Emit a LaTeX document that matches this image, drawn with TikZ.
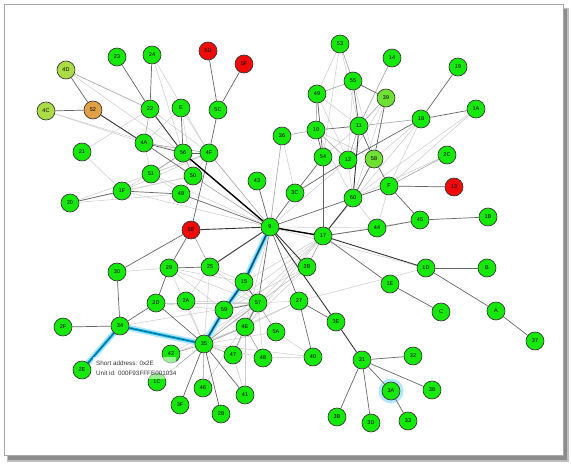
\documentclass[tikz,border=0pt]{standalone}
\usepackage{fontspec}
\setmainfont{Liberation Sans}
\pgfdeclarelayer{background}
\pgfdeclarelayer{edges}
\pgfsetlayers{background,edges,main}
\definecolor{ngreen}{RGB}{22,232,10}
\definecolor{nlime}{RGB}{110,225,50}
\definecolor{nyel}{RGB}{170,220,70}
\definecolor{norange}{RGB}{225,160,70}
\definecolor{nred}{RGB}{240,10,10}
\tikzset{
  nd/.style={circle,draw=black!80,line width=0.65pt,fill=ngreen,minimum size=18pt,inner sep=0pt,font=\fontsize{5.5}{6}\selectfont},
  rd/.style={nd,fill=nred},
  lm/.style={nd,fill=nlime},
  yl/.style={nd,fill=nyel},
  og/.style={nd,fill=norange},
  ea/.style={draw=black!20,line width=0.5pt},
  eb/.style={draw=black!38,line width=0.55pt},
  ec/.style={draw=black!60,line width=0.7pt},
  ed/.style={draw=black!80,line width=0.9pt},
  ee/.style={draw=black,line width=1.4pt},
  glow/.style={draw=cyan!30,line width=6pt,line cap=round},
  glowc/.style={draw=cyan,line width=2.6pt,line cap=round},
  tip/.style={font=\fontsize{6.3}{7}\selectfont,text=black!80,anchor=west,inner sep=0pt}
}
\begin{document}
\begin{tikzpicture}[x=1pt,y=-1pt]
\useasboundingbox (0,0) rectangle (571,468);
\begin{pgfonlayer}{background}
\fill[black!25] (7,8) rectangle (569,462);
\fill[black!45] (8,9) rectangle (567,460);
\filldraw[fill=white,draw=black!35,line width=0.5pt] (4,4) rectangle (563,455);
\end{pgfonlayer}
% nodes
\node[nd] (n23) at (117,57) {23};
\node[nd] (n24) at (152,55) {24};
\node[yl] (n4D) at (66,70) {4D};
\node[yl] (n4C) at (46,111) {4C};
\node[og] (n52) at (93,110) {52};
\node[nd] (n22) at (150,109) {22};
\node[nd] (nE) at (181,108) {E};
\node[rd] (n5D) at (208,51) {5D};
\node[rd] (n5F) at (244,64) {5F};
\node[nd] (n5C) at (218,110) {5C};
\node[nd] (n21) at (82,152) {21};
\node[nd] (n4A) at (144,143) {4A};
\node[nd] (n56) at (183,153) {56};
\node[nd] (n4F) at (209,153) {4F};
\node[nd] (n51) at (151,174) {51};
\node[nd] (n50) at (193,176) {50};
\node[nd] (n1F) at (122,191) {1F};
\node[nd] (n48a) at (181,194) {48};
\node[nd] (n20) at (70,203) {20};
\node[rd] (n5B) at (191,230) {5B};
\node[nd] (n43) at (257,181) {43};
\node[nd] (n9) at (270,227) {9};
\node[nd] (n36) at (282,136) {36};
\node[nd] (n3C) at (295,193) {3C};
\node[nd] (n53) at (340,44) {53};
\node[nd] (n55) at (353,81) {55};
\node[nd] (n49) at (317,94) {49};
\node[nd] (n10) at (316,130) {10};
\node[nd] (n11) at (359,126) {11};
\node[nd] (n14) at (392,58) {14};
\node[lm] (n39) at (386,98) {39};
\node[nd] (n18) at (421,119) {18};
\node[nd] (n19) at (458,67) {19};
\node[nd] (n1A) at (476,109) {1A};
\node[nd] (n54) at (323,157) {54};
\node[nd] (n12) at (348,160) {12};
\node[lm] (n58) at (374,159) {58};
\node[nd] (n2C) at (447,155) {2C};
\node[nd] (nF) at (389,186) {F};
\node[rd] (n13) at (454,187) {13};
\node[nd] (n60) at (353,198) {60};
\node[nd] (n17) at (323,236) {17};
\node[nd] (n44) at (377,228) {44};
\node[nd] (n45) at (420,220) {45};
\node[nd] (n1B) at (488,217) {1B};
\node[nd] (n1D) at (426,268) {1D};
\node[nd] (nB) at (487,268) {B};
\node[nd] (n1E) at (390,284) {1E};
\node[nd] (nC) at (441,312) {C};
\node[nd] (nA) at (496,311) {A};
\node[nd] (n37) at (535,341) {37};
\node[nd] (n30) at (117,272) {30};
\node[nd] (n29) at (169,268) {29};
\node[nd] (n25) at (210,267) {25};
\node[nd] (n2D) at (156,303) {2D};
\node[nd] (n2A) at (186,301) {2A};
\node[nd] (n15) at (244,282) {15};
\node[nd] (n59) at (224,310) {59};
\node[nd] (n57) at (258,303) {57};
\node[nd] (n2B) at (307,267) {2B};
\node[nd] (n27) at (299,301) {27};
\node[nd] (n4E) at (245,327) {4E};
\node[nd] (n5A) at (276,332) {5A};
\node[nd] (n3E) at (336,322) {3E};
\node[nd] (n2F) at (63,327) {2F};
\node[nd] (n34) at (120,326) {34};
\node[nd] (n35) at (204,344) {35};
\node[nd] (n42) at (171,354) {42};
\node[nd] (n47) at (233,355) {47};
\node[nd] (n48b) at (263,358) {48};
\node[nd] (n40) at (313,357) {40};
\node[nd] (n31) at (362,360) {31};
\node[nd] (n32) at (413,356) {32};
\node[nd] (n2E) at (82,370) {2E};
\node[nd] (n1C) at (157,382) {1C};
\node[nd] (n3F) at (180,405) {3F};
\node[nd] (n46) at (203,388) {46};
\node[nd] (n41) at (245,395) {41};
\node[nd] (n28) at (221,414) {28};
\node[nd] (n3B) at (337,417) {3B};
\node[nd] (n3D) at (371,423) {3D};
\node[nd] (n3A) at (391,391) {3A};
\node[nd] (n38) at (432,390) {38};
\node[nd] (n33) at (408,421) {33};
\begin{pgfonlayer}{edges}
% halo of 3A
\fill[cyan!30] (n3A) circle (12.5pt);
% faint edges
\foreach \a/\b in {n4C/n4A,n4D/n56,n24/n56,n24/n4F,nE/n4A,nE/n50,nE/n4F,n21/n22,n21/n1F,n1F/n56,n1F/n50,n1F/n4F,n20/n48a,n20/n50,n51/n9,n51/n4F,n50/n4F,n22/n4F,n4A/n51,n4C/n56,
  n53/n49,n53/n11,n53/n54,n55/n58,n49/n11,n49/n12,n49/n54,n10/n58,n11/n54,n39/n12,n39/n60,n18/n58,n18/nF,n1A/nF,n1A/n60,n2C/n60,n12/n60,n12/n9,n44/nF,n44/n60,n17/n45,n44/n9,n27/n1D,n9/n1D,n18/n17,n10/n60,n55/n12,
  n57/n2D,n57/n29,n57/n34,n57/n47,n57/n48b,n4E/n47,n5A/n35,n59/n2D,n25/n2A,n25/n35,n25/n15,n29/n35,n57/n42,n57/n46,n41/n4E,n48b/n35,n40/n35,n40/n48b,n27/n35,n2B/n35,n2B/n57,n2B/n4E,n17/n57,n17/n35,n17/n15,n2B/n59,n27/n4E,n17/n4E,n25/n57,n29/n15,n30/n29,n2D/n57,n47/n41,n42/n4E,n9/n4E,n2A/n57,n36/n3C,n20/n4F,n1F/n9,n51/n48a,n59/n4E,n17/n59,n27/n57,n5A/n40,n29/n59,n2A/n35}
  \draw[ea] (\a) -- (\b);
\foreach \a/\b in {n36/n9,n36/n10,n4D/n22,n22/n4A,n56/n50,n56/n51,n48a/n50,n4A/n4F,n10/n12,n11/n12,n11/n39,n11/n18,n2C/nF,n53/n55,n14/n11,n55/n49,n49/n10,n57/n35,n4E/n35,n4E/n48b,n57/n5A,n35/n47,n35/n1C,n35/n42,n35/n46,n9/n4F,n9/n50,n2B/n17,n5B/n25,n47/n4E}
  \draw[eb] (\a) -- (\b);
\foreach \a/\b in {n23/n22,n24/n22,n4D/n52,n4C/n52,nE/n56,n5D/n5C,n5F/n5C,n5C/n4F,n4F/n5B,n1F/n48a,n1F/n20,n43/n9,n3C/n9,n3C/n54,n3C/n12,n17/n54,n17/n44,n17/n1E,n60/n58,n58/n11,n58/nF,nF/n13,nF/n45,n45/n44,n45/n1B,n1D/nB,n1D/nA,nA/n37,n1E/nC,n18/n19,n18/n1A,n18/n12,n39/n58,n55/n39,n10/n11,n10/n54,n55/n11,n56/n4F,n4A/n56,n30/n34,n34/n2F,n34/n2D,n2D/n29,n2D/n35,n29/n25,n5B/n29,n57/n4E,n57/n59,n15/n57,n27/n40,n27/n3E,n31/n32,n31/n38,n31/n3A,n31/n3B,n31/n3D,n3A/n33,n35/n3F,n35/n28,n35/n41,n9/n27,n9/n57,n9/n60,n60/nF,n48a/n9,n5B/n30,n4A/n50,n49/n54}
  \draw[ec] (\a) -- (\b);
\foreach \a/\b in {n52/n4A,n22/n56,n5B/n9,n9/n25,n9/n2B,n9/n3E,n3E/n31,n17/n60,n17/n1D,n11/n60}
  \draw[ed] (\a) -- (\b);
\draw[ee] (n56) -- (n9);
\draw[ee] (n9) -- (n17);
% highlighted route
\draw[glow] (n2E.center) -- (n34.center) -- (n35.center) -- (n59.center) -- (n15.center) -- (n9.center);
\draw[glowc] (n2E.center) -- (n34.center) -- (n35.center) -- (n59.center) -- (n15.center) -- (n9.center);
\draw[draw=black!85,line width=0.8pt] (n35) -- (n59) -- (n15) -- (n9);
\draw[draw=teal!60!black,line width=0.5pt] (n2E) -- (n34) -- (n35);
\end{pgfonlayer}
% tooltip
\fill[white,opacity=0.55] (93,357) rectangle (176,379);
\node[tip] (tip1) at (96,363) {Short address: 0x2E};
\node[tip] (tip2) at (96,373) {Unit id: 000F93FFFE001034};
\end{tikzpicture}
\end{document}
